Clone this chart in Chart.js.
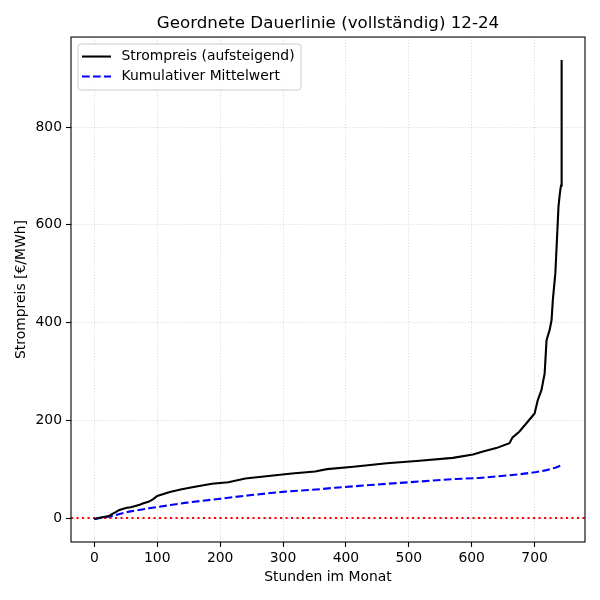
<!DOCTYPE html>
<html>
<head>
<meta charset="utf-8">
<script src="https://cdn.jsdelivr.net/npm/chart.js@4"></script>
<style>
  body { margin: 0; background: #fff; }
  #wrap { width: 600px; height: 600px; }
</style>
</head>
<body>
<div id="wrap"><canvas id="dauerChart" width="600" height="600"></canvas></div>
<script>
// sorted hourly prices, December 2024
const hours = [0, 10, 17, 23, 28, 34, 39, 46, 52, 58, 65, 72, 78, 86, 93, 100, 110, 120, 139, 160, 187, 213, 240, 277, 314, 351, 370, 412, 465, 517, 570, 602, 618, 639, 660, 665, 676, 689, 700, 705, 711, 716, 719, 724, 727, 729, 733, 735, 738, 740, 741, 742, 743];
const prices = [-2, 1, 2.7, 4, 8, 12, 16, 19, 21, 22, 24.5, 27, 30, 33, 38, 45, 49, 53, 59, 64, 70, 73, 81, 86, 91, 95, 100, 105, 112, 117, 123, 130, 136, 143, 153, 165, 177, 197, 214, 241, 262, 296, 364, 385, 405, 446, 501, 555, 637, 662, 672, 680, 937];

// cumulative mean curve
const meanHours = [0, 10, 28, 55, 92, 121, 144, 197, 250, 303, 359, 383, 465, 570, 613, 676, 703, 719, 733, 743];
const meanValues = [-2, 0, 4, 13, 21, 26.5, 31, 39, 47, 54, 59, 62, 70, 79.5, 82, 89.5, 94, 98, 103, 108];

const xTicks = [0, 100, 200, 300, 400, 500, 600, 700];
const yTicks = [0, 200, 400, 600, 800];
const xRange = [-37.15, 780.15];
const yRange = [-49.1, 984.1];

Chart.defaults.font.family = '"DejaVu Sans", sans-serif';
Chart.defaults.color = '#000';

function toPoints(xs, ys) {
    return xs.map((x, i) => ({ x: x, y: ys[i] }));
}

// matplotlib style legend box inside the axes
const innerLegend = {
    id: 'innerLegend',
    afterDraw(chart) {
        const ctx = chart.ctx;
        const area = chart.chartArea;
        const x = area.left + 7, y = area.top + 7;
        ctx.save();
        ctx.beginPath();
        ctx.roundRect(x, y, 223, 46, 3);
        ctx.fillStyle = 'rgba(255,255,255,0.8)';
        ctx.fill();
        ctx.strokeStyle = '#cccccc';
        ctx.lineWidth = 1;
        ctx.stroke();
        const items = chart.data.datasets.filter(d => d.showInLegend);
        ctx.font = '13.9px "DejaVu Sans", sans-serif';
        ctx.textBaseline = 'middle';
        items.forEach((d, i) => {
            const rowY = y + 12.5 + i * 20;
            ctx.beginPath();
            ctx.setLineDash(d.borderDash || []);
            ctx.strokeStyle = d.borderColor;
            ctx.lineWidth = d.borderWidth;
            ctx.moveTo(x + 4, rowY);
            ctx.lineTo(x + 33, rowY);
            ctx.stroke();
            ctx.setLineDash([]);
            ctx.fillStyle = '#000';
            ctx.fillText(d.label, x + 43.5, rowY);
        });
        ctx.restore();
    }
};

// axes frame on all four sides
const frame = {
    id: 'frame',
    afterDatasetsDraw(chart) {
        const a = chart.chartArea;
        const ctx = chart.ctx;
        ctx.save();
        ctx.strokeStyle = '#000';
        ctx.lineWidth = 1.1;
        ctx.strokeRect(a.left, a.top, a.right - a.left, a.bottom - a.top);
        ctx.restore();
    }
};

var ctx = document.getElementById('dauerChart').getContext('2d');
var dauerChart = new Chart(ctx, {
    type: 'line',
    data: {
        datasets: [
            {
                label: 'Strompreis (aufsteigend)',
                data: toPoints(hours, prices),
                borderColor: '#000000',
                borderWidth: 2.1,
                pointRadius: 0,
                tension: 0,
                showInLegend: true
            },
            {
                label: 'Kumulativer Mittelwert',
                data: toPoints(meanHours, meanValues),
                borderColor: '#0000ff',
                borderWidth: 2.1,
                borderDash: [7.7, 3.3],
                pointRadius: 0,
                tension: 0,
                showInLegend: true
            },
            {
                label: 'Null',
                data: toPoints(xRange, [0, 0]),
                borderColor: '#ff0000',
                borderWidth: 2.1,
                borderDash: [2.1, 3.4],
                pointRadius: 0,
                showInLegend: false
            }
        ]
    },
    options: {
        responsive: false,
        animation: false,
        layout: { padding: { left: 0, right: 15, top: 0, bottom: 0 } },
        plugins: {
            legend: { display: false },
            tooltip: { enabled: false },
            title: {
                display: true,
                text: 'Geordnete Dauerlinie (vollständig) 12-24',
                fullSize: false,
                font: { size: 16.7, weight: 'normal' },
                padding: { top: 14, bottom: 3 }
            }
        },
        scales: {
            x: {
                type: 'linear',
                min: xRange[0],
                max: xRange[1],
                afterBuildTicks: s => { s.ticks = xTicks.map(v => ({ value: v })); },
                afterFit: s => { s.height = 58; },
                ticks: { font: { size: 13.9 }, padding: 3, maxRotation: 0 },
                grid: {
                    color: 'rgba(176,176,176,0.6)',
                    lineWidth: 0.8,
                    tickColor: '#000',
                    tickLength: 5,
                    tickWidth: 1.1
                },
                border: { display: false, dash: [1.1, 1.8] },
                title: {
                    display: true,
                    text: 'Stunden im Monat',
                    font: { size: 13.9 },
                    padding: { top: 0, bottom: 14 }
                }
            },
            y: {
                type: 'linear',
                min: yRange[0],
                max: yRange[1],
                afterBuildTicks: s => { s.ticks = yTicks.map(v => ({ value: v })); },
                afterFit: s => { s.width = 71; },
                ticks: { font: { size: 13.9 }, padding: 4 },
                grid: {
                    color: 'rgba(176,176,176,0.6)',
                    lineWidth: 0.8,
                    tickColor: '#000',
                    tickLength: 5,
                    tickWidth: 1.1
                },
                border: { display: false, dash: [1.1, 1.8] },
                title: {
                    display: true,
                    text: 'Strompreis [€/MWh]',
                    font: { size: 13.9 },
                    padding: { top: 13.5, bottom: 0 }
                }
            }
        }
    },
    plugins: [innerLegend, frame]
});
</script>
</body>
</html>
